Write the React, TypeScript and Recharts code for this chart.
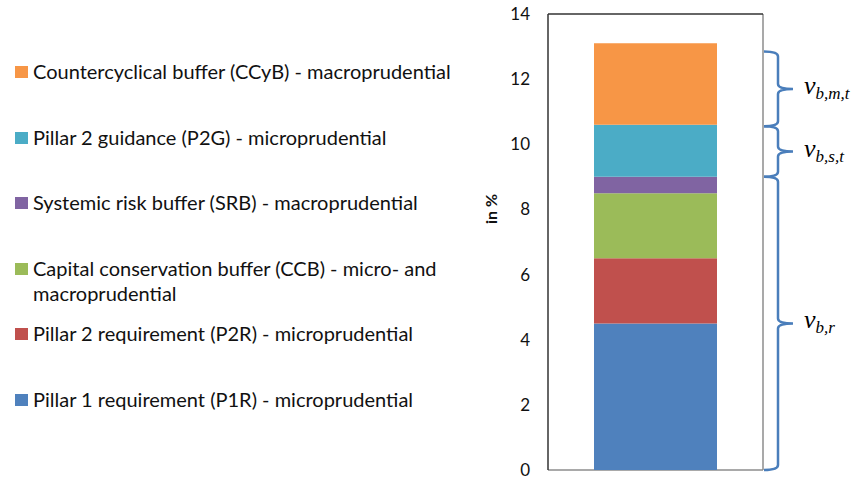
import React from 'react';
import { BarChart, Bar, XAxis, YAxis, ReferenceArea } from 'recharts';

const categories = ['Capital stack'];
const seriesKeys = ['P1R', 'P2R', 'CCB', 'SRB', 'P2G', 'CCyB'];
const seriesLabels = [
  'Pillar 1 requirement (P1R) - microprudential',
  'Pillar 2 requirement (P2R) - microprudential',
  'Capital conservation buffer (CCB) - micro- and macroprudential',
  'Systemic risk buffer (SRB) - macroprudential',
  'Pillar 2 guidance (P2G) - microprudential',
  'Countercyclical buffer (CCyB) - macroprudential',
];
const seriesColors = ['#4F81BD', '#C0504D', '#9BBB59', '#8064A2', '#4BACC6', '#F79646'];
const p1r = [4.5];
const p2r = [2.0];
const ccb = [2.0];
const srb = [0.5];
const p2g = [1.6];
const ccyb = [2.5];
const yTicks = [0, 2, 4, 6, 8, 10, 12, 14];

const braceSubs = ['b,m,t', 'b,s,t', 'b,r'];
const braceTop = [12.85, 10.55, 9.0];
const braceBottom = [10.55, 9.0, 0];

const seriesValues = [p1r, p2r, ccb, srb, p2g, ccyb];
const data = categories.map((c, i) => {
  const row: any = { name: c };
  seriesKeys.forEach((k, j) => { row[k] = seriesValues[j][i]; });
  return row;
});

const FONT = 'Lato, "Open Sans", sans-serif';

const makeBrace = (sub: string) => (props: any) => {
  const { x, y, width, height } = props;
  const x0 = x + width + 1;
  const xs = x0 + 14;
  const xt = xs + 15;
  const yt = y;
  const yb = y + height;
  const ym = (yt + yb) / 2;
  const r = 5;
  const d = `M ${x0} ${yt} Q ${xs} ${yt} ${xs} ${yt + r} L ${xs} ${ym - r} Q ${xs} ${ym} ${xt} ${ym} Q ${xs} ${ym} ${xs} ${ym + r} L ${xs} ${yb - r} Q ${xs} ${yb} ${x0} ${yb}`;
  return (
    <g>
      <path d={d} fill="none" stroke="#4A7EBB" strokeWidth={2.5} />
      <text x={xt + 11} y={ym + 5} fontFamily='"Liberation Serif", serif' fontStyle="italic" fill="#000">
        <tspan fontSize={26}>v</tspan>
        <tspan fontSize={17} dy={5}>{sub}</tspan>
      </text>
    </g>
  );
};

const Frame = (props: any) => {
  const { x, y, width, height } = props;
  return (
    <g>
      <line x1={x + width} y1={y} x2={x + width} y2={y + height} stroke="#8C8C8C" strokeWidth={1.5} />
      <line x1={x} y1={y + height} x2={x + width} y2={y + height} stroke="#8C8C8C" strokeWidth={1.5} />
      <line x1={x} y1={y} x2={x + width} y2={y} stroke="#333" strokeWidth={1.5} />
      <line x1={x} y1={y} x2={x} y2={y + height} stroke="#333" strokeWidth={1.5} />
    </g>
  );
};

export default function App() {
  const legendItems = seriesKeys.map((k, i) => ({ key: k, label: seriesLabels[i], color: seriesColors[i] })).reverse();
  return (
    <div style={{ position: 'absolute', left: 0, top: 0, width: 859, height: 479, background: '#fff' }}>
      <BarChart
        width={859}
        height={479}
        data={data}
        margin={{ top: 14, right: 96, bottom: 9, left: 0 }}
        barCategoryGap={0}
      >
        <XAxis dataKey="name" height={0} tick={false} tickLine={false} axisLine={false} />
        <YAxis
          yAxisId={0}
          width={548}
          domain={[0, 14]}
          ticks={yTicks}
          type="number"
          tickLine={false}
          tickSize={0}
          tickMargin={18}
          interval={0}
          axisLine={false}
          tick={{ fontSize: 17, fill: '#111', fontFamily: FONT }}
          label={{
            content: () => (
              <text x={497} y={209} transform="rotate(-90 497 209)" textAnchor="middle" fontFamily={FONT} fontWeight="bold" fontSize={16} fill="#111">in %</text>
            ),
          }}
        />
        <ReferenceArea y1={0} y2={14} ifOverflow="visible" shape={Frame} />
        {seriesKeys.map((k, i) => (
          <Bar key={k} dataKey={k} stackId="a" fill={seriesColors[i]} barSize={123} isAnimationActive={false} />
        ))}
        {braceSubs.map((s, i) => (
          <ReferenceArea key={s} y1={braceBottom[i]} y2={braceTop[i]} ifOverflow="visible" shape={makeBrace(s)} />
        ))}
      </BarChart>
      {legendItems.map((it, i) => {
        const c = 72 + i * 65.5;
        return (
          <React.Fragment key={it.key}>
            <div style={{ position: 'absolute', left: 15, top: c - 6, width: 13, height: 12, background: it.color }} />
            <div style={{ position: 'absolute', left: 33, top: c - 12.8, width: 440, fontFamily: FONT, fontSize: 20, lineHeight: '25px', color: '#111' }}>
              {it.label}
            </div>
          </React.Fragment>
        );
      })}
    </div>
  );
}
